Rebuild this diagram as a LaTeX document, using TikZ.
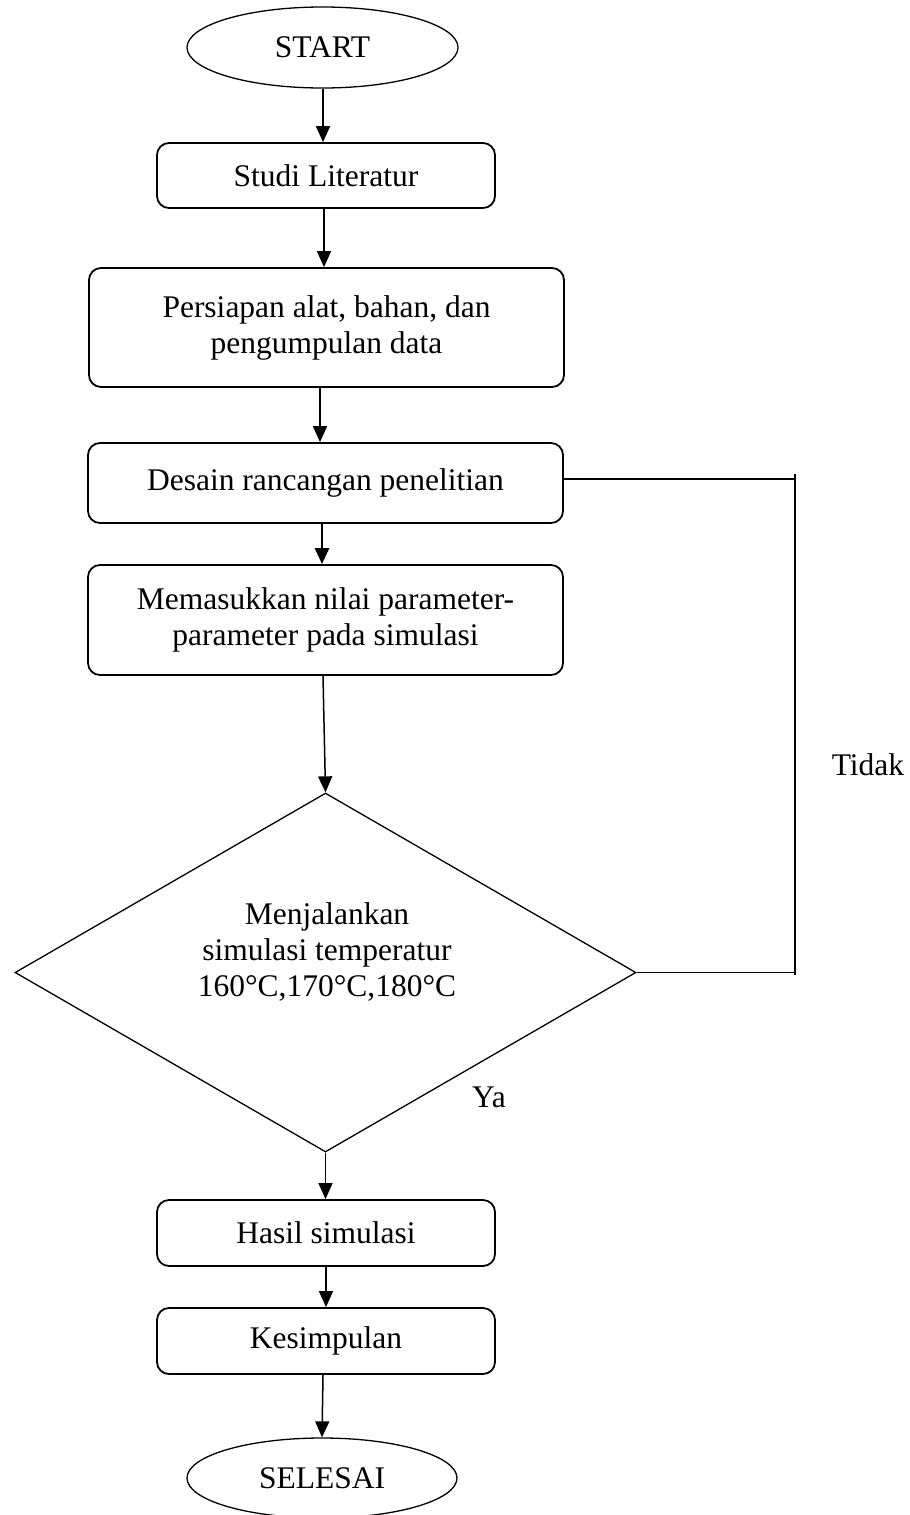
\documentclass[tikz,border=0pt]{standalone}
\usepackage{fontspec}
\setmainfont{Liberation Serif}
\usetikzlibrary{shapes.geometric,arrows.meta}
\begin{document}
\begin{tikzpicture}[x=1pt,y=-1pt,
  every node/.style={font=\fontsize{31.5}{36}\selectfont},
  box/.style={draw,line width=1.8pt,rounded corners=12pt,inner sep=0pt,align=center},
  term/.style={draw,ellipse,line width=1.3pt,inner sep=0pt},
  dec/.style={draw,diamond,line width=1.3pt,inner sep=0pt,aspect=1.73},
  arr/.style={line width=1.5pt,-{Triangle[length=16pt,width=14pt]}},
  ln/.style={line width=1.6pt}]
\useasboundingbox (0,0) rectangle (910,1515);
\node[term,minimum width=271pt,minimum height=81pt] (start) at (322.5,47.5) {START};
\node[box,minimum width=338pt,minimum height=65pt] (studi) at (326,175.5) {Studi Literatur};
\node[box,minimum width=475pt,minimum height=119pt] (persiapan) at (326.5,327.5) {Persiapan alat, bahan, dan\\pengumpulan data};
\node[box,minimum width=475pt,minimum height=80pt] (desain) at (325.5,483) {Desain rancangan penelitian};
\node[box,minimum width=475pt,minimum height=110pt] (masuk) at (325.5,620) {Memasukkan nilai parameter-\\parameter pada simulasi};
\node[dec,minimum width=621pt,minimum height=359pt] (dia) at (325.5,972.5) {};
\node[align=center,inner sep=0pt] (diatext) at (327,952) {Menjalankan\\simulasi temperatur\\160°C,170°C,180°C};
\node[box,minimum width=338pt,minimum height=66pt] (hasil) at (326,1233) {Hasil simulasi};
\node[box,minimum width=338pt,minimum height=66pt] (kes) at (326,1341) {Kesimpulan};
\node[term,minimum width=270pt,minimum height=80pt] (selesai) at (322,1478) {SELESAI};
\node[inner sep=0pt] (tidak) at (868,765) {Tidak};
\node[inner sep=0pt] (ya) at (489,1097) {Ya};
\coordinate (c1) at (795,479);
\coordinate (c0) at (795,474);
\coordinate (c2) at (795,972.5);
\coordinate (c3) at (795,975);
\draw[arr] (start.south -| 323,0) -- (studi.north -| 323,0);
\draw[arr] (studi.south -| 324,0) -- (persiapan.north -| 324,0);
\draw[arr] (persiapan.south -| 320,0) -- (desain.north -| 320,0);
\draw[arr,line width=2.6pt] (desain.south -| 322,0) -- (masuk.north -| 322,0);
\draw[arr] (masuk.south -| 323,0) -- (dia.north);
\draw[arr] (dia.south) -- (hasil.north -| dia.south);
\draw[arr] (hasil.south -| 326,0) -- (kes.north -| 326,0);
\draw[arr] (kes.south -| 323,0) -- (selesai.north);
\draw[ln] (c1 -| desain.east) -- (c1);
\draw[ln] (c0) -- (c3);
\draw[ln] (dia.east) -- (c2);
\end{tikzpicture}
\end{document}
